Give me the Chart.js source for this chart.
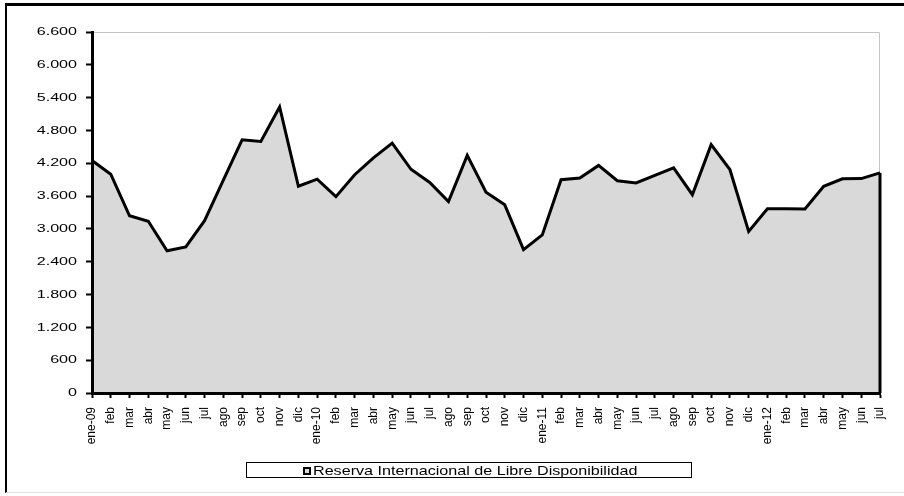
<!DOCTYPE html>
<html><head><meta charset="utf-8">
<script src="https://cdn.jsdelivr.net/npm/chart.js@4"></script>
<style>
html,body{margin:0;padding:0;background:#fff;overflow:hidden;width:904px;height:496px;}
#frame{position:absolute;left:5px;top:3px;width:950px;height:490px;border-top:3px solid #000;border-left:2px solid #000;border-bottom:1px solid #e2e2e2;box-sizing:border-box;}
#c{position:absolute;left:0;top:0;}
#legend{position:absolute;left:246px;top:462px;width:446px;height:16px;border:1px solid #000;box-sizing:border-box;background:#fff;}
#legend .mk{position:absolute;left:56px;top:4px;width:8px;height:8px;border:2px solid #000;background:#d9d9d9;box-sizing:border-box;}
#legend .tx{position:absolute;left:66px;top:0px;font:13px "Liberation Sans",Arial,sans-serif;color:#000;white-space:nowrap;transform:scaleX(1.24);transform-origin:0 0;line-height:16px;}
</style>
</head><body>
<div id="frame"></div>
<canvas id="c" width="904" height="496"></canvas>
<div id="legend"><div class="mk"></div><div class="tx" id="legtxt"></div></div>
<script>
const seriesName = 'Reserva Internacional de Libre Disponibilidad';
const categories = [
  'ene-09','feb','mar','abr','may','jun','jul','ago','sep','oct','nov','dic',
  'ene-10','feb','mar','abr','may','jun','jul','ago','sep','oct','nov','dic',
  'ene-11','feb','mar','abr','may','jun','jul','ago','sep','oct','nov','dic',
  'ene-12','feb','mar','abr','may','jun','jul'
];
const reservas = [
  4250, 4000, 3240, 3140, 2600, 2670, 3150, 3890, 4630, 4600, 5230, 3780,
  3910, 3590, 3990, 4300, 4570, 4090, 3850, 3500, 4345, 3670, 3440, 2620,
  2890, 3900, 3930, 4160, 3880, 3840, 3980, 4115, 3625, 4540, 4085, 2955,
  3370, 3370, 3365, 3780, 3915, 3920, 4025
];
const yMin = 0, yMax = 6600, yStep = 600;

document.getElementById('legtxt').textContent = seriesName;

const fmt = v => String(v).replace(/\B(?=(\d{3})+(?!\d))/g, '.');

const decor = {
  id: 'decor',
  beforeDatasetsDraw(chart) {
    const {ctx, chartArea: a} = chart;
    ctx.save();
    ctx.strokeStyle = '#c4c4c4';
    ctx.lineWidth = 1;
    ctx.beginPath();
    ctx.moveTo(a.left, a.top + 0.5);
    ctx.lineTo(a.right - 0.5, a.top + 0.5);
    ctx.lineTo(a.right - 0.5, a.bottom);
    ctx.stroke();
    ctx.restore();
  },
  afterDatasetsDraw(chart) {
    const {ctx} = chart;
    const meta = chart.getDatasetMeta(0);
    const p = meta.data[meta.data.length - 1];
    const y0 = chart.scales.y.getPixelForValue(0);
    ctx.save();
    ctx.strokeStyle = '#000';
    ctx.lineWidth = 3;
    ctx.beginPath();
    ctx.moveTo(p.x, p.y);
    ctx.lineTo(p.x, y0);
    ctx.stroke();
    ctx.restore();
  },
  afterDraw(chart) {
    const {ctx} = chart;
    const s = chart.scales.y;
    ctx.save();
    ctx.font = '11.5px "Liberation Sans", Arial, sans-serif';
    ctx.fillStyle = '#000';
    ctx.textAlign = 'right';
    ctx.textBaseline = 'middle';
    s.ticks.forEach(t => {
      const y = s.getPixelForValue(t.value);
      ctx.save();
      ctx.translate(s.right - 15, y);
      ctx.scale(1.4, 1);
      ctx.fillText(fmt(t.value), 0, 0);
      ctx.restore();
    });
    ctx.restore();
  }
};

new Chart(document.getElementById('c'), {
  type: 'line',
  data: {
    labels: categories,
    datasets: [{
      label: seriesName,
      data: reservas,
      borderColor: '#000',
      borderWidth: 3,
      backgroundColor: '#d9d9d9',
      fill: 'origin',
      tension: 0,
      pointRadius: 0,
      borderJoinStyle: 'miter'
    }]
  },
  options: {
    responsive: false,
    animation: false,
    layout: {padding: {top: 32, right: 24, left: 0, bottom: 43}},
    plugins: {legend: {display: false}, tooltip: {enabled: false}},
    scales: {
      x: {
        offset: false,
        grid: {drawOnChartArea: false, tickColor: '#000', tickWidth: 2, tickLength: 5},
        border: {color: '#000', width: 3, z: 1},
        ticks: {
          autoSkip: false, maxRotation: 90, minRotation: 90, padding: 9,
          color: '#000', font: {family: '"Liberation Sans", Arial, sans-serif', size: 12}
        },
        afterFit(scale) { scale.height = 60; }
      },
      y: {
        min: yMin, max: yMax,
        grid: {drawOnChartArea: false, tickColor: '#000', tickWidth: 2, tickLength: 6},
        border: {color: '#000', width: 3, z: 1},
        ticks: {stepSize: yStep, color: 'rgba(0,0,0,0)', padding: 9,
          font: {family: '"Liberation Sans", Arial, sans-serif', size: 11.5},
          callback: v => fmt(v)},
        afterFit(scale) { scale.width = 92; }
      }
    }
  },
  plugins: [decor]
});
</script>
</body></html>
